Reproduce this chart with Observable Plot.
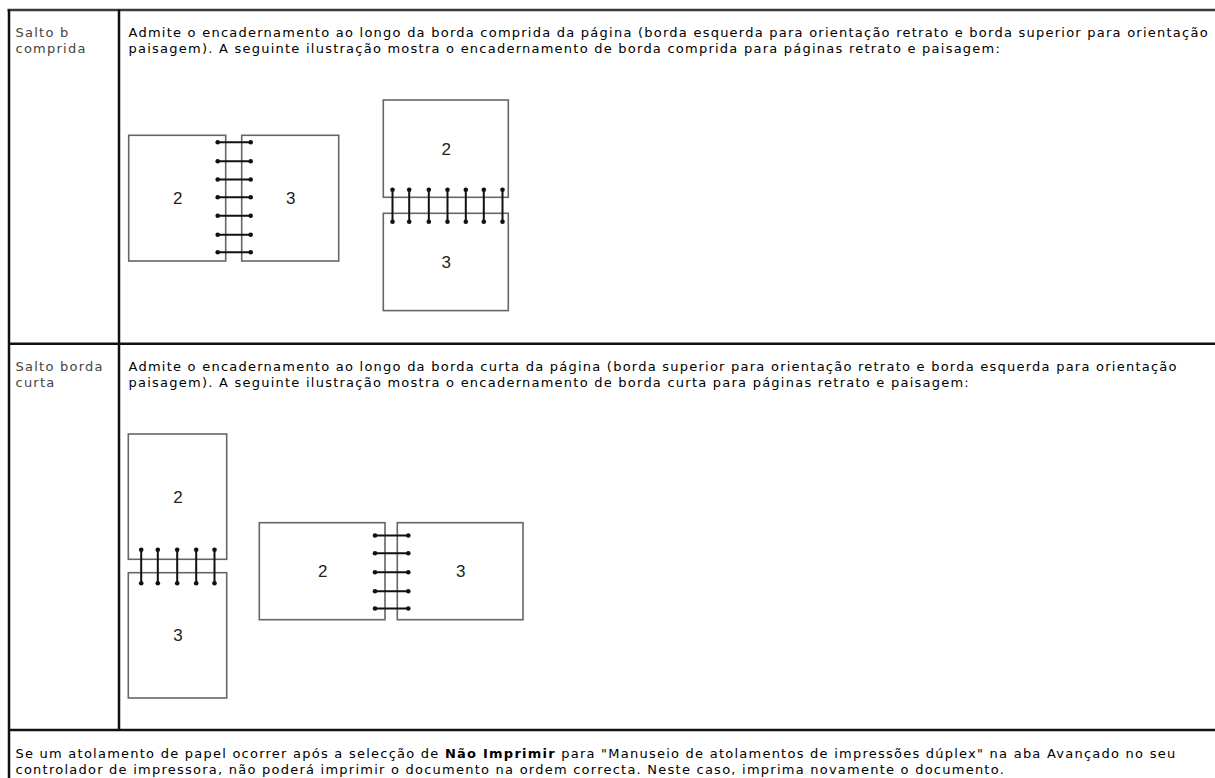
<!DOCTYPE html>
<html><head><meta charset="utf-8">
<script src="https://cdn.jsdelivr.net/npm/d3@7"></script>
<script src="https://cdn.jsdelivr.net/npm/@observablehq/plot@0.6"></script>
<style>html,body{margin:0;padding:0;background:#fff;overflow:hidden}svg{display:block}</style>
</head><body><div id="chart"></div>
<script>
// ---------- DATA ----------
const rowLabels = ["Salto b\ncomprida", "Salto borda\ncurta"];
const rowDescriptions = [
  "Admite o encadernamento ao longo da borda comprida da página (borda esquerda para orientação retrato e borda superior para orientação\npaisagem). A seguinte ilustração mostra o encadernamento de borda comprida para páginas retrato e paisagem:",
  "Admite o encadernamento ao longo da borda curta da página (borda superior para orientação retrato e borda esquerda para orientação\npaisagem). A seguinte ilustração mostra o encadernamento de borda curta para páginas retrato e paisagem:"
];
const noteLine1Parts = [
  "Se um atolamento de papel ocorrer após a selecção de",
  "Não Imprimir",
  "para \"Manuseio de atolamentos de impressões dúplex\" na aba Avançado no seu"
];
const noteLine1Bold = [false, true, false];
const noteLine2 = "controlador de impressora, não poderá imprimir o documento na ordem correcta. Neste caso, imprima novamente o documento.";
const pageNumbers = ["2", "3"];
const spreadBinding = ["side", "stacked", "stacked", "side"];
const spreadRingCount = [7, 7, 5, 5];

// ---------- LAYOUT ----------
const W = 1215, H = 778;
const tableLeft = 8.5, tableTop = 9.5, colDivider = 118.5;
const rowDividers = [343.3, 729.5];
const labelX = 15, descX = 128, noteX = 15;
const rowBaselines = [[36.5, 52.5], [370, 386]];
const noteBaselines = [757, 773];
const FONT = "DejaVu Sans", FONT_SIZE = 13, LETTER_SPACING = 1.24;
const spreads = [
  {x0: 128.7, y0: 135.3, w: 97,    h: 125.7, gap: 16,   over: 8.5,
   rings: [141.7, 160.7, 179, 196.7, 215.3, 234.3, 251.7]},
  {x0: 383.3, y0: 100,   w: 125,   h: 97.3,  gap: 16,   over: 8,
   rings: [392, 408.7, 428.3, 447, 465.3, 483.3, 502]},
  {x0: 128.3, y0: 434,   w: 98.4,  h: 125.3, gap: 13.4, over: 10,
   rings: [140.7, 157.3, 176.7, 195.7, 214]},
  {x0: 259.3, y0: 522.7, w: 125.7, h: 97,    gap: 12.3, over: 10.5,
   rings: [535, 552.7, 571.7, 590.7, 608]}
];

// ---------- BUILD ----------
const pages = [], rings = [], ringEnds = [];
spreads.forEach((s, i) => {
  const side = spreadBinding[i] === "side";
  pageNumbers.forEach((num, j) => {
    const x1 = side ? s.x0 + j * (s.w + s.gap) : s.x0;
    const y1 = side ? s.y0 : s.y0 + j * (s.h + s.gap);
    pages.push({x1, y1, x2: x1 + s.w, y2: y1 + s.h, cx: x1 + s.w / 2, cy: y1 + s.h / 2, num});
  });
  s.rings.slice(0, spreadRingCount[i]).forEach(p => {
    let r;
    if (side) r = {x1: s.x0 + s.w - s.over, x2: s.x0 + s.w + s.gap + s.over, y1: p, y2: p};
    else r = {x1: p, x2: p, y1: s.y0 + s.h - s.over, y2: s.y0 + s.h + s.gap + s.over};
    rings.push(r);
    ringEnds.push({x: r.x1, y: r.y1}, {x: r.x2, y: r.y2});
  });
});

const labelLines = [], descLines = [];
rowLabels.forEach((t, i) => t.split("\n").forEach((l, k) => labelLines.push({x: labelX, y: rowBaselines[i][k], text: l})));
rowDescriptions.forEach((t, i) => t.split("\n").forEach((l, k) => descLines.push({x: descX, y: rowBaselines[i][k], text: l})));

const ctx = document.createElement("canvas").getContext("2d");
function measure(t, bold) {
  ctx.font = (bold ? "bold " : "") + FONT_SIZE + "px '" + FONT + "'";
  return ctx.measureText(t).width + t.length * LETTER_SPACING;
}
const noteNormal = [], noteBold = [];
let cx = noteX;
noteLine1Parts.forEach((t, i) => {
  (noteLine1Bold[i] ? noteBold : noteNormal).push({x: cx, y: noteBaselines[0], text: t});
  cx += measure(t, noteLine1Bold[i]) + measure(" ", false);
});
noteNormal.push({x: noteX, y: noteBaselines[1], text: noteLine2});

const textOpts = {x: "x", y: "y", text: "text", textAnchor: "start", lineAnchor: "bottom", fontSize: FONT_SIZE, fontFamily: FONT};

const chart = Plot.plot({
  width: W, height: H,
  marginTop: 0, marginRight: 0, marginBottom: 0, marginLeft: 0,
  x: {domain: [0, W], range: [0, W], axis: null},
  y: {domain: [0, H], range: [0, H], axis: null},
  style: {background: "#fff"},
  marks: [
    Plot.rect(pages, {x1: "x1", x2: "x2", y1: "y1", y2: "y2", fill: "#fff", stroke: "#666", strokeWidth: 1.6}),
    Plot.link(rings, {x1: "x1", y1: "y1", x2: "x2", y2: "y2", stroke: "#111", strokeWidth: 2}),
    Plot.dot(ringEnds, {x: "x", y: "y", r: 2.3, fill: "#111", stroke: null}),
    Plot.text(pages, {x: "cx", y: "cy", text: "num", textAnchor: "middle", lineAnchor: "middle", fontSize: 17, fontFamily: "Liberation Sans", fill: "#222"}),
    // table borders
    Plot.ruleY([tableTop], {x1: tableLeft - 1, x2: W, stroke: "#3a3a3a", strokeWidth: 2.5}),
    Plot.ruleX([tableLeft], {y1: tableTop, y2: H, stroke: "#111", strokeWidth: 2.5}),
    Plot.ruleX([colDivider], {y1: tableTop, y2: rowDividers[1], stroke: "#111", strokeWidth: 2.5}),
    Plot.ruleY(rowDividers, {x1: tableLeft, x2: W, stroke: "#111", strokeWidth: 2.5}),
    // texts
    Plot.text(labelLines, {...textOpts, fill: "#444"}),
    Plot.text(descLines, {...textOpts, fill: "#000"}),
    Plot.text(noteNormal, {...textOpts, fill: "#000"}),
    Plot.text(noteBold, {...textOpts, fill: "#000", fontWeight: "bold"})
  ]
});
d3.select(chart).selectAll("g[font-family='" + FONT + "']").attr("letter-spacing", LETTER_SPACING + "px");
document.getElementById("chart").appendChild(chart);
</script>
</body></html>
